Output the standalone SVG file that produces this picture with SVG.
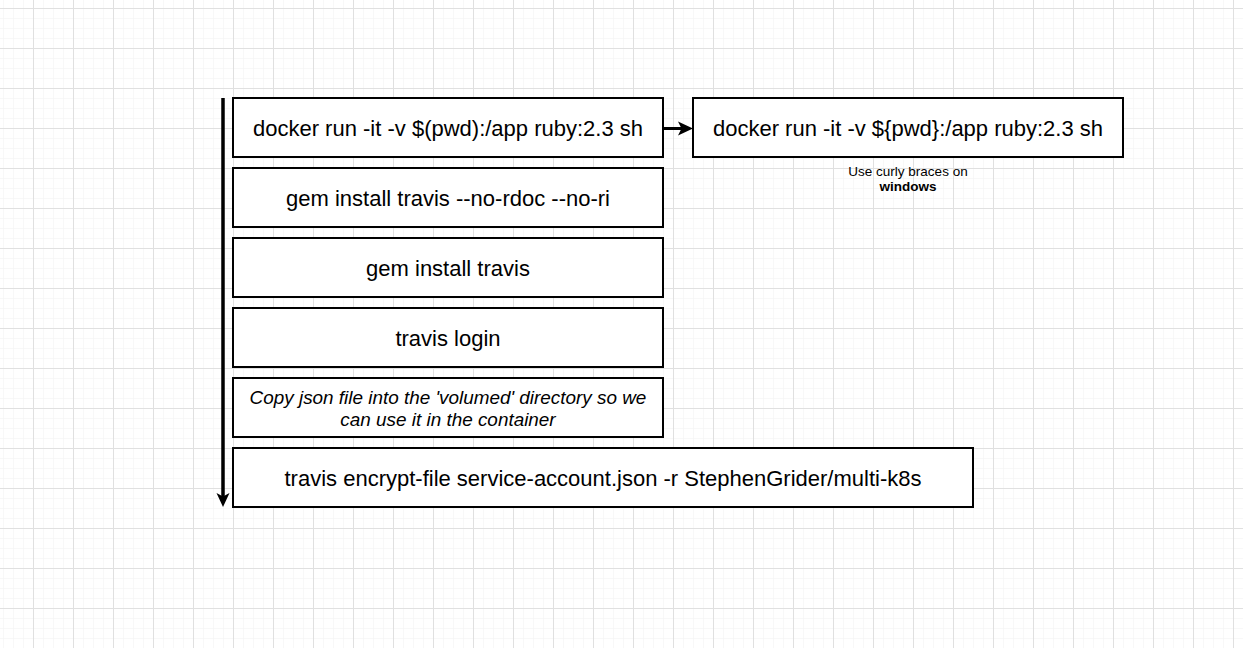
<svg xmlns="http://www.w3.org/2000/svg" width="1243" height="648" viewBox="0 0 1243 648">
<defs>
<pattern id="minor" width="10" height="10" patternUnits="userSpaceOnUse" x="3" y="8">
<path d="M0 0H10M0 0V10" fill="none" stroke="#f2f2f2" stroke-width="1"/>
</pattern>
<pattern id="major" width="40" height="40" patternUnits="userSpaceOnUse" x="33" y="8">
<path d="M0 0.5H40M0.5 0V40" fill="none" stroke="#e0e0e0" stroke-width="1"/>
</pattern>
</defs>
<style>
.box{fill:#fff;stroke:#000;stroke-width:2}
.t{font-family:"Liberation Sans",Arial,sans-serif;font-size:22px;fill:#000;text-anchor:middle}
.it{font-family:"Liberation Sans",Arial,sans-serif;font-size:18.9px;font-style:italic;fill:#000;text-anchor:middle}
.cap{font-family:"Liberation Sans",Arial,sans-serif;font-size:13.5px;fill:#000;text-anchor:middle}
.conn{fill:none;stroke:#000}
</style>
<rect width="1243" height="648" fill="#fff"/>
<rect width="1243" height="648" fill="url(#minor)"/>
<rect width="1243" height="648" fill="url(#major)"/>
<g id="connectors">
<path class="conn" d="M223 98V500" stroke-width="3.5"/>
<path d="M223 507L216.5 493L223 496.5L229.5 493Z" fill="#000"/>
<path class="conn" d="M663 128.5H687" stroke-width="3"/>
<path d="M693 128.5L678 121.5L681.5 128.5L678 135.5Z" fill="#000"/>
</g>
<g id="n1"><rect class="box" x="233" y="98" width="430" height="59"/><text class="t" x="448" y="135.5">docker run -it -v $(pwd):/app ruby:2.3 sh</text></g>
<g id="n2"><rect class="box" x="693" y="98" width="430" height="59"/><text class="t" x="908" y="135.5">docker run -it -v ${pwd}:/app ruby:2.3 sh</text></g>
<g id="caption"><text class="cap" x="908" y="176">Use curly braces on</text><text class="cap" x="908" y="191" font-weight="bold">windows</text></g>
<g id="n3"><rect class="box" x="233" y="168" width="430" height="59"/><text class="t" x="448" y="205.5">gem install travis --no-rdoc --no-ri</text></g>
<g id="n4"><rect class="box" x="233" y="238" width="430" height="59"/><text class="t" x="448" y="275.5">gem install travis</text></g>
<g id="n5"><rect class="box" x="233" y="308" width="430" height="59"/><text class="t" x="448" y="345.5">travis login</text></g>
<g id="n6"><rect class="box" x="233" y="378" width="430" height="59"/><text class="it" x="448" y="403.5">Copy json file into the 'volumed' directory so we</text><text class="it" x="448" y="425.5">can use it in the container</text></g>
<g id="n7"><rect class="box" x="233" y="448" width="740" height="59"/><text class="t" x="603" y="485.5">travis encrypt-file service-account.json -r StephenGrider/multi-k8s</text></g>
</svg>
